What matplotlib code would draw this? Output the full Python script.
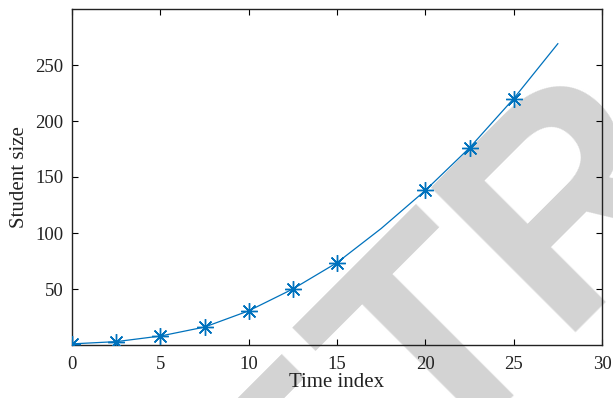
import matplotlib
matplotlib.use("Agg")
import matplotlib.pyplot as plt

# Data
line_x = [0, 2.5, 5, 7.5, 10, 12.5, 15, 17.5, 20, 22.5, 25, 27.5]
line_y = [1, 3, 8, 16, 30.5, 50, 73.5, 104, 138, 176, 220, 269]
marker_x = [0, 2.5, 5, 7.5, 10, 12.5, 15, 20, 22.5, 25]
marker_y = [1, 3, 8, 16, 30.5, 50, 73.5, 138, 176, 220]
x_ticks = [0, 5, 10, 15, 20, 25, 30]
y_ticks = [50, 100, 150, 200, 250]

blue = "#0072BD"
serif = ["Liberation Serif", "DejaVu Serif"]

fig = plt.figure(figsize=(6.13, 3.98), dpi=100)

# Watermark (behind everything)
wm_kw = dict(rotation=45, rotation_mode="anchor", fontsize=214,
             fontweight="bold", family=["Liberation Sans", "DejaVu Sans"],
             color="#d3d3d3", va="baseline", zorder=-5)
ox, oy = 434 / 613, (398 - 472) / 398
fig.text(ox, oy, "TRACTED", ha="left", **wm_kw)
fig.text(ox, oy, "RE", ha="right", **wm_kw)

ax = fig.add_axes([72 / 613, (398 - 345) / 398, (602 - 72) / 613, (345 - 9) / 398])
ax.patch.set_alpha(0)

ax.plot(line_x, line_y, color=blue, lw=0.9, zorder=3)
ax.plot(marker_x, marker_y, ls="none", marker=(8, 2, 0), ms=12,
        mec=blue, mew=1.0, color=blue, zorder=4)

ax.set_xlim(0, 30)
ax.set_ylim(0, 300)
ax.set_xticks(x_ticks)
ax.set_yticks(y_ticks)
ax.tick_params(direction="in", top=True, right=True, length=4, width=0.8,
               labelsize=13.5)
ax.tick_params(axis="x", pad=8)
ax.tick_params(axis="y", pad=6)
for lab in ax.get_xticklabels() + ax.get_yticklabels():
    lab.set_family(serif)
    lab.set_color("#222222")
for s in ax.spines.values():
    s.set_linewidth(1.0)
    s.set_color("#222222")

ax.set_xlabel("Time index", family=serif, fontsize=15, labelpad=0, color="#222222")
ax.set_ylabel("Student size", family=serif, fontsize=15, labelpad=5, color="#222222")

fig.savefig("out.png", dpi=100)
